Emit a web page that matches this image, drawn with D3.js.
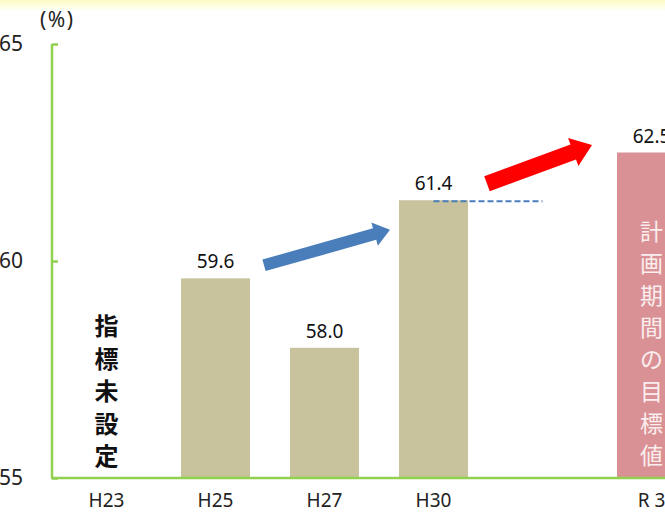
<!DOCTYPE html>
<html>
<head>
<meta charset="utf-8">
<script src="https://cdn.jsdelivr.net/npm/d3@7"></script>
<style>
  body{margin:0;background:#fff;}
  svg{display:block;font-family:"Noto Sans","Noto Sans CJK JP",sans-serif;}
  .domain{display:none;}
</style>
</head>
<body>
<svg id="graph1"></svg>
<script>
// data
var categories=["H23","H25","H27","H30","","R3"];
var barCats=["H25","H27","H30"];
var barValues=[59.6,58.0,61.4];
var targetCat="R3";
var targetValue=62.5;
var yTicks=[55,60,65];
var noIndexText="指標未設定";
var targetText="計画期間の目標値";
// arrows: from category to category, value at tail and tip
var arrowFrom=["H25","H30"];
var arrowTo=["H30","R3"];
var arrowV0=[59.9,61.78];
var arrowV1=[60.72,62.67];
var arrowColors=["#4a7ebb","#ff0000"];

var screen={width:665,height:512}
var margins={left:52,top:44,bottom:34}

var svg=d3.select("#graph1")
    .attr("width",screen.width)
    .attr("height",screen.height)

// pale yellow strip on top
var grad=svg.append("defs").append("linearGradient")
    .attr("id","topband").attr("x1",0).attr("y1",0).attr("x2",0).attr("y2",1)
grad.append("stop").attr("offset","0%").attr("stop-color","#fbfbc4")
grad.append("stop").attr("offset","100%").attr("stop-color","#ffffff")
svg.append("rect").attr("x",0).attr("y",0).attr("width",screen.width).attr("height",12)
    .attr("fill","url(#topband)")

var xScale=d3.scaleBand()
    .domain(categories)
    .range([margins.left,margins.left+109*6])
    .paddingInner(0.367)
    .paddingOuter(0.1835)

var yScale=d3.scaleLinear()
    .domain([55,65])
    .range([screen.height-margins.bottom,margins.top])

var bw=xScale.bandwidth();

// bars
svg.append("g")
    .selectAll("rect")
    .data(barValues)
    .enter()
    .append("rect")
    .attr("x",function(d,i){return xScale(barCats[i]);})
    .attr("y",function(d){return yScale(d);})
    .attr("width",bw)
    .attr("height",function(d){return yScale(55)-yScale(d);})
    .attr("fill","#c9c39d")

svg.append("rect")
    .attr("x",xScale(targetCat))
    .attr("y",yScale(targetValue))
    .attr("width",bw)
    .attr("height",yScale(55)-yScale(targetValue))
    .attr("fill","#da9195")

// value labels
svg.append("g")
    .selectAll("text")
    .data(barValues)
    .enter()
    .append("text")
    .attr("x",function(d,i){return xScale(barCats[i])+bw/2;})
    .attr("y",function(d){return yScale(d)-10;})
    .attr("text-anchor","middle")
    .attr("font-size",19)
    .attr("fill","#111")
    .text(function(d){return d.toFixed(1);})

svg.append("text")
    .attr("x",xScale(targetCat)+bw/2)
    .attr("y",yScale(targetValue)-10)
    .attr("text-anchor","middle")
    .attr("font-size",19)
    .attr("fill","#111")
    .text(targetValue.toFixed(1))

// dashed reference line at H30 level
svg.append("line")
    .attr("x1",xScale("H30")+bw/2)
    .attr("x2",xScale("")+bw/2)
    .attr("y1",yScale(barValues[2])+1)
    .attr("y2",yScale(barValues[2])+1)
    .attr("stroke","#4a7ebb")
    .attr("stroke-width",2)
    .attr("stroke-dasharray","6,3")

// arrows
var arrowPath=function(x0,y0,x1,y1,shaft,head,headLen)
    {
        var dx=x1-x0,dy=y1-y0,len=Math.sqrt(dx*dx+dy*dy);
        var ux=dx/len,uy=dy/len,nx=-uy,ny=ux;
        var bx=x1-ux*headLen,by=y1-uy*headLen;
        var pts=[
            [x0+nx*shaft/2,y0+ny*shaft/2],
            [bx+nx*shaft/2,by+ny*shaft/2],
            [bx+nx*head/2,by+ny*head/2],
            [x1,y1],
            [bx-nx*head/2,by-ny*head/2],
            [bx-nx*shaft/2,by-ny*shaft/2],
            [x0-nx*shaft/2,y0-ny*shaft/2]
        ];
        return "M"+pts.map(function(p){return p[0]+","+p[1];}).join("L")+"Z";
    }
var tailGap=[14,19],tipGap=[9,25],shafts=[12,16],heads=[24,30],headLens=[16,20];
arrowFrom.forEach(function(f,i)
    {
        svg.append("path")
            .attr("d",arrowPath(
                xScale(f)+bw+tailGap[i],yScale(arrowV0[i]),
                xScale(arrowTo[i])-tipGap[i],yScale(arrowV1[i]),
                shafts[i],heads[i],headLens[i]))
            .attr("fill",arrowColors[i])
    })

// vertical texts
svg.append("g")
    .selectAll("text")
    .data(noIndexText.split(""))
    .enter()
    .append("text")
    .attr("x",xScale("H23")+bw/2)
    .attr("y",function(d,i){return 335+i*32.5;})
    .attr("text-anchor","middle")
    .attr("font-family","Noto Sans CJK JP")
    .attr("font-weight","bold")
    .attr("font-size",24)
    .attr("fill","#111")
    .text(function(d){return d;})

svg.append("g")
    .selectAll("text")
    .data(targetText.split(""))
    .enter()
    .append("text")
    .attr("x",xScale(targetCat)+bw/2)
    .attr("y",function(d,i){return 240+i*32;})
    .attr("text-anchor","middle")
    .attr("font-family","Noto Sans CJK JP")
    .attr("font-size",23)
    .attr("fill","#fbeeee")
    .text(function(d){return d;})

// axes
var yAxis=d3.axisLeft(yScale).tickValues(yTicks).tickSizeInner(-6).tickSizeOuter(0)
var yg=svg.append("g")
    .attr("transform","translate("+margins.left+",0)")
    .call(yAxis)
yg.selectAll(".tick line").attr("stroke","#92d050").attr("stroke-width",2.5)
yg.selectAll(".tick text")
    .attr("x",-margins.left-1)
    .attr("text-anchor","start")
    .attr("font-size",21)
    .attr("fill","#222")
    .attr("font-family","Noto Sans")

svg.append("line")
    .attr("x1",margins.left).attr("x2",margins.left)
    .attr("y1",yScale(65)).attr("y2",yScale(55))
    .attr("stroke","#92d050").attr("stroke-width",2.5)
svg.append("line")
    .attr("x1",margins.left-1).attr("x2",screen.width)
    .attr("y1",yScale(55)).attr("y2",yScale(55))
    .attr("stroke","#92d050").attr("stroke-width",2.5)

var xAxis=d3.axisBottom(xScale).tickSize(0)
var xg=svg.append("g")
    .attr("transform","translate(0,"+yScale(55)+")")
    .call(xAxis)
xg.selectAll(".tick text")
    .attr("dy",0)
    .attr("y",29)
    .attr("font-size",19)
    .attr("fill","#222")
    .attr("font-family","Noto Sans")
    .text(function(d){return d=="R3"?"R 3":d;})

svg.append("text")
    .text("(%)")
    .attr("x",40)
    .attr("y",27)
    .attr("font-size",21)
    .attr("letter-spacing",1.5)
    .attr("fill","#222")
</script>
</body>
</html>
